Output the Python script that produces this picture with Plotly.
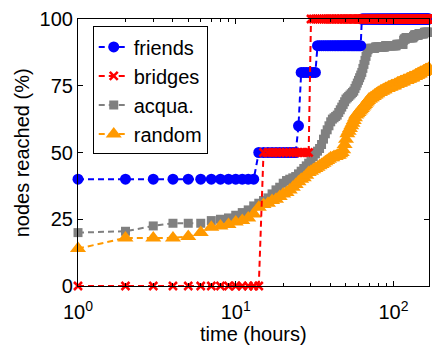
import numpy as np
import plotly.graph_objects as go

# hourly observations, one per hour over one week
hours = list(range(1, 169))

# step series stored as (level, last hour at that level)
friends_levels = [40, 50, 60, 80, 90, 100]
friends_until = [13, 24, 25, 32, 62, 168]
bridges_levels = [0, 50, 100]
bridges_until = [14, 29, 168]

acqua = [
    20, 20.5, 22.5, 23.5, 23.5, 23.5, 24.5, 25, 25.5, 26.5,
    27.5, 28.5, 30, 31, 32, 33, 34.5, 36, 37, 38.5,
    39.5, 40, 40.5, 41, 42, 43, 44, 45, 46, 47.5,
    48.5, 49.5, 50.5, 51.5, 53, 55, 57, 58.5, 60, 61.5,
    62.5, 63, 63.5, 64, 65, 66, 67, 68, 69, 70,
    70.5, 71, 71.5, 72, 72.5, 73, 74, 75, 76, 77,
    78, 79, 80, 81.5, 83, 84.5, 86, 87.5, 88.5, 89,
    89, 89, 89, 89, 89, 89, 89.5, 89.5, 89.5, 89.5,
    89.5, 89.5, 89.5, 89.5, 89.5, 89.5, 89.5, 89.5, 90, 90,
    90, 90, 90, 90, 90, 90, 90, 90, 90, 90,
    90, 90, 90, 90, 90.5, 90.5, 90.5, 90.5, 90.5, 90.5,
    90.5, 90.5, 90.5, 90.5, 90.5, 92, 92.5, 92.5, 92.5, 93,
    93, 93, 93, 93, 93, 93, 93, 93, 93, 93,
    93, 93, 93, 93.5, 93.5, 94, 94, 94, 94, 94,
    94, 94, 94, 94, 94.5, 94.5, 94.5, 94.5, 94.5, 94.5,
    94.5, 94.5, 94.5, 94.5, 94.5, 94.5, 95, 95, 95, 95,
    95, 95, 95, 95, 95, 95, 95, 95,
]

random_sel = [
    14, 18, 18, 18, 18.5, 20, 22, 22.5, 23, 24,
    24.5, 25.5, 27, 29.5, 30.5, 31, 32, 32.5, 33.5, 34.5,
    35, 36, 37, 38, 39, 40, 40.5, 41.5, 42.5, 43,
    43.5, 44, 44.5, 45, 45.5, 46, 46.5, 47, 47.5, 48,
    48, 48.5, 48.5, 49, 49, 49.5, 50, 51, 53, 55,
    57, 58, 59, 60, 61, 62, 63, 64, 64.5, 65,
    65.5, 66, 66.5, 67, 67.5, 68, 68.5, 69, 69.5, 70,
    70, 70.5, 70.5, 71, 71, 71.5, 71.5, 72, 72, 72.5,
    72.5, 72.5, 73, 73, 73, 73.5, 73.5, 73.5, 74, 74,
    74, 74, 74.5, 74.5, 74.5, 74.5, 75, 75, 75, 75,
    75, 75.5, 75.5, 75.5, 75.5, 76, 76, 76, 76, 76,
    76.5, 76.5, 76.5, 76.5, 76.5, 77, 77, 77, 77, 77,
    77, 77.5, 77.5, 77.5, 77.5, 77.5, 78, 78, 78, 78,
    78, 78, 78.5, 78.5, 78.5, 78.5, 78.5, 79, 79, 79,
    79, 79, 79.5, 79.5, 79.5, 79.5, 79.5, 80, 80, 80,
    80, 80, 80, 80, 80.5, 80.5, 80.5, 80.5, 80.5, 81,
    81, 81, 81, 81, 81, 81, 81.5, 81.5,
]

x_tick_vals = [1, 10, 100]
x_tick_text = ["10<sup>0</sup>", "10<sup>1</sup>", "10<sup>2</sup>"]
y_tick_vals = [0, 25, 50, 75, 100]


def expand_steps(levels, until):
    vals = []
    for lvl, last in zip(levels, until):
        vals.extend([lvl] * (last - len(vals)))
    return vals


friends = expand_steps(friends_levels, friends_until)
bridges = expand_steps(bridges_levels, bridges_until)

DASH = "6px,4px"
FONT = "Liberation Sans, Arial, Helvetica, sans-serif"

fig = go.Figure()

fig.add_trace(go.Scatter(
    x=hours, y=acqua, name="acqua.", mode="lines+markers", legendrank=3,
    line=dict(color="#808080", width=2, dash=DASH),
    marker=dict(symbol="square", size=9, color="#808080"),
    cliponaxis=False,
))
fig.add_trace(go.Scatter(
    x=hours, y=random_sel, name="random", mode="lines+markers", legendrank=4,
    line=dict(color="#FF9900", width=2, dash=DASH),
    marker=dict(symbol="triangle-up", size=14, color="#FF9900"),
    cliponaxis=False,
))
fig.add_trace(go.Scatter(
    x=hours, y=friends, name="friends", mode="lines+markers", legendrank=1,
    line=dict(color="#0000FF", width=2, dash=DASH),
    marker=dict(symbol="circle", size=11, color="#0000FF"),
    cliponaxis=False,
))
fig.add_trace(go.Scatter(
    x=hours, y=bridges, name="bridges", mode="lines+markers", legendrank=2,
    line=dict(color="#FF0000", width=2, dash=DASH),
    marker=dict(symbol="x-thin", size=8, color="#FF0000",
                line=dict(color="#FF0000", width=2.5)),
    cliponaxis=False,
))

axis_common = dict(
    showline=True, linecolor="black", linewidth=1.2, mirror="allticks",
    ticks="inside", ticklen=5, tickcolor="black", tickwidth=1,
    showgrid=False, zeroline=False,
    tickfont=dict(family=FONT, size=20, color="black"),
)

fig.update_xaxes(
    type="log", range=[0, np.log10(168)],
    tickmode="array", tickvals=x_tick_vals, ticktext=x_tick_text,
    ticklabelstandoff=8,
    minor=dict(ticks="inside", ticklen=3, tickcolor="black",
               tickmode="array",
               tickvals=[2, 3, 4, 5, 6, 7, 8, 9, 20, 30, 40, 50, 60, 70, 80, 90]),
    **axis_common,
)
fig.update_yaxes(
    range=[0, 100], tickmode="array", tickvals=y_tick_vals,
    **axis_common,
)

fig.update_layout(
    width=432, height=349,
    margin=dict(l=78, r=3, t=19, b=63),
    paper_bgcolor="white", plot_bgcolor="white",
    font=dict(family=FONT, size=20, color="black"),
    legend=dict(
        x=0.042, y=0.972, xanchor="left", yanchor="top",
        bgcolor="white", bordercolor="black", borderwidth=1,
        font=dict(family=FONT, size=20, color="black"),
        tracegroupgap=0,
    ),
    annotations=[
        dict(text="time (hours)", xref="paper", yref="paper",
             x=0.5, y=-0.18, xanchor="center", yanchor="middle",
             showarrow=False, font=dict(family=FONT, size=20)),
        dict(text="nodes reached (%)", xref="paper", yref="paper",
             x=-0.16, y=0.5, xanchor="center", yanchor="middle",
             textangle=-90, showarrow=False, font=dict(family=FONT, size=20)),
    ],
)

fig.write_html("out.html")
